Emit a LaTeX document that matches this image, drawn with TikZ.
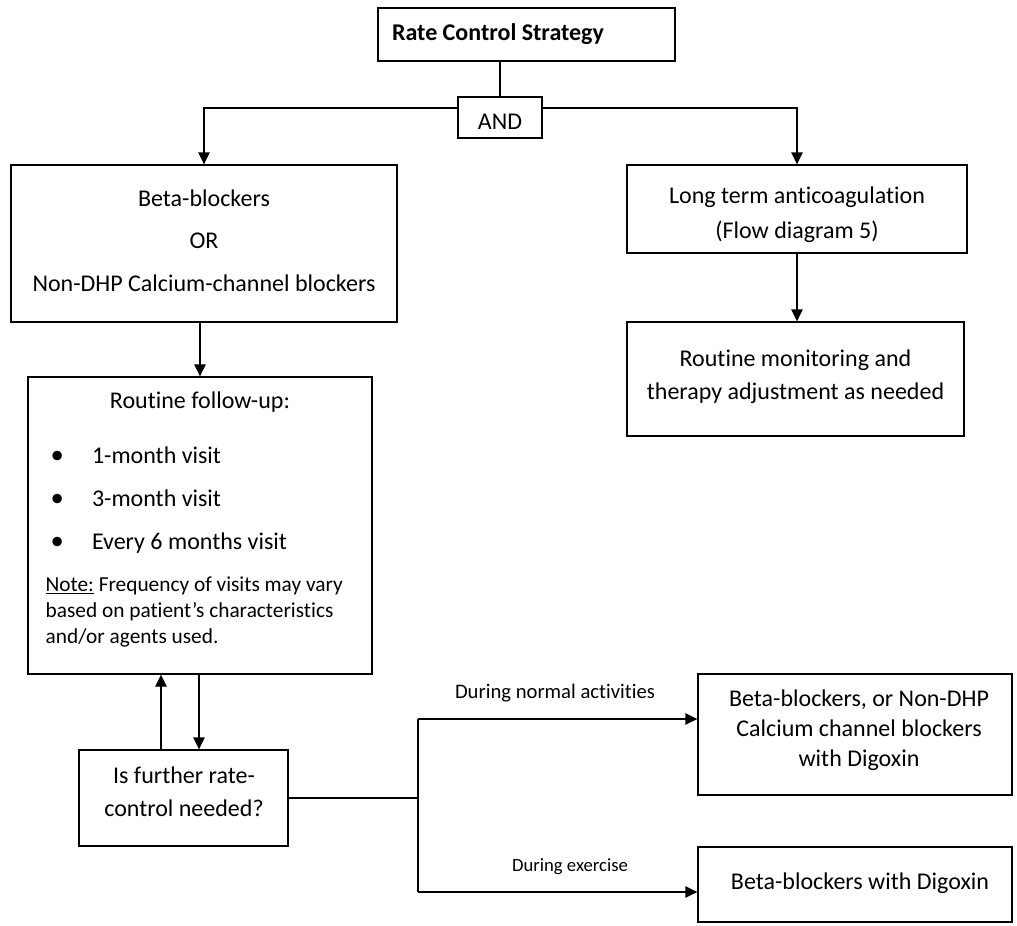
\documentclass[tikz,border=0pt]{standalone}
\usepackage{fontspec}
\setmainfont{Carlito}[Ligatures=NoCommon]
\usetikzlibrary{arrows.meta}
\begin{document}
\begin{tikzpicture}[x=0.75pt,y=-0.75pt,line width=1pt,
  box/.style={draw,line width=1pt,inner sep=0pt},
  txt/.style={inner sep=0pt,align=center,font=\fontsize{18pt}{21pt}\selectfont},
  lbl/.style={inner sep=0pt,font=\fontsize{15.5pt}{18pt}\selectfont},
  arr/.style={-{Triangle[length=9pt,width=8.5pt]}}]
\useasboundingbox (0,0) rectangle (1017,925);
% boxes
\node[box,minimum width=222.75pt,minimum height=39.75pt] (top) at (526.5,34.5) {};
\node[box,minimum width=63pt,minimum height=30.75pt] (and) at (500,117.5) {};
\node[box,minimum width=289.5pt,minimum height=117.75pt] (beta) at (204,243.5) {};
\node[box,minimum width=255pt,minimum height=66pt] (long) at (797,209) {};
\node[box,minimum width=252.75pt,minimum height=85.5pt] (mon) at (795.5,379) {};
\node[box,minimum width=258pt,minimum height=222.75pt] (rout) at (200,525.5) {};
\node[box,minimum width=156.75pt,minimum height=72pt] (q) at (183.5,798) {};
\node[box,minimum width=235.5pt,minimum height=90.75pt] (b1) at (855,734.5) {};
\node[box,minimum width=235.5pt,minimum height=56.25pt] (b2) at (855,884.5) {};
% texts
\node[txt,font=\fontsize{18pt}{21pt}\selectfont\bfseries] (toptxt) at (498,34) {Rate Control Strategy};
\node[txt] (andtxt) at (500,122) {AND};
\node[txt,font=\fontsize{18pt}{31.9pt}\selectfont] (betatxt) at (204,240.5) {Beta-blockers\\OR\\Non-DHP Calcium-channel blockers};
\node[txt,font=\fontsize{18pt}{26.25pt}\selectfont] (longtxt) at (797,214.5) {Long term anticoagulation\\(Flow diagram 5)};
\node[txt,font=\fontsize{18pt}{24.75pt}\selectfont] (montxt) at (795.5,376.5) {Routine monitoring and\\therapy adjustment as needed};
\node[txt] (routtxt) at (200,402) {Routine follow-up:};
\node[txt,anchor=west,align=left,font=\fontsize{18pt}{32.25pt}\selectfont] (visits) at (50,500)
  {\makebox[31pt][l]{\fontsize{20pt}{20pt}\selectfont •}1-month visit\\\makebox[31pt][l]{\fontsize{20pt}{20pt}\selectfont •}3-month visit\\\makebox[31pt][l]{\fontsize{20pt}{20pt}\selectfont •}Every 6 months visit};
\node[txt,anchor=west,align=left,font=\fontsize{16pt}{19.5pt}\selectfont] (note) at (45,612)
  {\underline{Note:} Frequency of visits may vary\\based on patient’s characteristics\\and/or agents used.};
\node[txt,font=\fontsize{18pt}{24.75pt}\selectfont] (qtxt) at (184,791.5) {Is further rate-\\control needed?};
\node[txt,font=\fontsize{18pt}{22.5pt}\selectfont] (b1txt) at (859,730) {Beta-blockers, or Non-DHP\\Calcium channel blockers\\with Digoxin};
\node[txt] (b2txt) at (860,883) {Beta-blockers with Digoxin};
\node[lbl] (l1) at (555,693) {During normal activities};
\node[lbl,font=\fontsize{14pt}{16pt}\selectfont] (l2) at (570,867) {During exercise};
% connectors
\coordinate (hl) at (500,108);
\coordinate (upx) at (161,0);
\coordinate (dnx) at (199,0);
\coordinate (bt) at (418,719);
\coordinate (bb) at (418,892);
\draw (and.north |- top.south) -- (and.north);
\draw[arr] (and.west |- hl) -| (beta.north);
\draw[arr] (and.east |- hl) -| (long.north);
\draw[arr] (rout.north |- beta.south) -- (rout.north);
\draw[arr] (long.south) -- (long.south |- mon.north);
\draw[arr] (upx |- q.north) -- (upx |- rout.south);
\draw[arr] (dnx |- rout.south) -- (dnx |- q.north);
\draw (q.east) -- (q.east -| bt);
\draw (bt) -- (bb);
\draw[arr] (bt) -- (bt -| b1.west);
\draw[arr] (bb) -- (bb -| b2.west);
\end{tikzpicture}
\end{document}
